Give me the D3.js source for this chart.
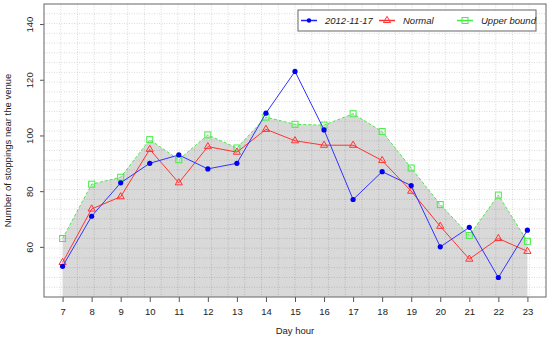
<!DOCTYPE html>
<html>
<head>
<meta charset="utf-8">
<script src="https://cdn.jsdelivr.net/npm/d3@7"></script>
<style>
  body { margin: 0; background: #fff; }
  svg { font-family: "Liberation Sans", Arial, sans-serif; }
</style>
</head>
<body>
<div id="chart"></div>
<script>
// data
var hours = [7, 8, 9, 10, 11, 12, 13, 14, 15, 16, 17, 18, 19, 20, 21, 22, 23];
var observed = [53, 71, 83, 90, 93, 88, 90, 108, 123, 102, 77, 87, 82, 60, 67, 49, 66];
var normal = [54.4, 73.6, 78, 95, 83, 96, 94, 102.2, 98.1, 96.5, 96.5, 91, 80, 67.4, 55.6, 63, 58.4];
var upper = [63, 82.5, 85, 98.5, 91.3, 100.2, 95.5, 106.6, 104, 103.7, 107.8, 101.4, 88.3, 75.2, 64.1, 78.6, 62];
var yTicks = [60, 80, 100, 120, 140];

var margin = {top: 4, right: 4, bottom: 46, left: 44},
    width = 550 - margin.left - margin.right,
    height = 343 - margin.top - margin.bottom;

var x = d3.scaleLinear().domain([6.36, 23.64]).range([0, width]);
var y = d3.scaleLinear().domain([42, 147.2]).range([height, 0]);

var svg = d3.select("#chart")
    .append("svg")
        .attr("width", 550)
        .attr("height", 343)
    .append("g")
        .attr("transform", "translate(" + margin.left + "," + margin.top + ")");

// grey area under the upper bound
var area = d3.area()
    .x(function(d, i) { return x(hours[i]); })
    .y0(height)
    .y1(function(d) { return y(d); });
svg.append("path")
    .datum(upper)
    .attr("d", area)
    .attr("fill", "#d9d9d9");

// dotted grid, 30 x 30 cells
var gridX = d3.range(1, 30).map(function(i) { return width * i / 30; });
var gridY = d3.range(1, 30).map(function(i) { return height * i / 30; });
svg.selectAll(".gx").data(gridX).enter().append("line")
    .attr("x1", function(d) { return d; }).attr("x2", function(d) { return d; })
    .attr("y1", 0).attr("y2", height)
    .attr("stroke", "rgba(0,0,0,0.15)").attr("stroke-dasharray", "1,1.5");
svg.selectAll(".gy").data(gridY).enter().append("line")
    .attr("y1", function(d) { return d; }).attr("y2", function(d) { return d; })
    .attr("x1", 0).attr("x2", width)
    .attr("stroke", "rgba(0,0,0,0.15)").attr("stroke-dasharray", "1,1.5");

function lineFor(vals) {
    return d3.line()
        .x(function(d, i) { return x(hours[i]); })
        .y(function(d) { return y(d); })(vals);
}

// upper bound
svg.append("path").attr("d", lineFor(upper))
    .attr("fill", "none").attr("stroke", "#44ee44").attr("stroke-width", 1)
    .attr("stroke-dasharray", "3,2");
svg.selectAll(".sq").data(upper).enter().append("rect")
    .attr("x", function(d, i) { return x(hours[i]) - 3; })
    .attr("y", function(d) { return y(d) - 3; })
    .attr("width", 6).attr("height", 6)
    .attr("fill", "none").attr("stroke", "#44ee44");

// normal
svg.append("path").attr("d", lineFor(normal))
    .attr("fill", "none").attr("stroke", "#ff3333").attr("stroke-width", 1);
var tri = d3.symbol().type(d3.symbolTriangle).size(22);
svg.selectAll(".tri").data(normal).enter().append("path")
    .attr("d", tri)
    .attr("transform", function(d, i) { return "translate(" + x(hours[i]) + "," + y(d) + ")"; })
    .attr("fill", "none").attr("stroke", "#ff3333");

// observed day
svg.append("path").attr("d", lineFor(observed))
    .attr("fill", "none").attr("stroke", "#3333ff").attr("stroke-width", 1);
svg.selectAll(".pt").data(observed).enter().append("circle")
    .attr("cx", function(d, i) { return x(hours[i]); })
    .attr("cy", function(d) { return y(d); })
    .attr("r", 2.6).attr("fill", "#0000ee");

// axes
var xAxis = svg.append("g")
    .attr("transform", "translate(0," + height + ")")
    .call(d3.axisBottom(x).tickValues(hours).tickFormat(d3.format("d")).tickSize(5).tickPadding(6));
var yAxis = svg.append("g")
    .call(d3.axisLeft(y).tickValues(yTicks).tickSize(4).tickPadding(3));
[xAxis, yAxis].forEach(function(a) {
    a.select(".domain").remove();
    a.selectAll("line").attr("stroke", "#555");
    a.selectAll("text").attr("font-size", "9.5px").attr("fill", "#222")
        .attr("font-family", "Liberation Sans, Arial, sans-serif");
});
yAxis.selectAll("text")
    .attr("text-anchor", "middle")
    .attr("transform", "translate(-11,0) rotate(-90)")
    .attr("x", 0).attr("dy", "0");

// box
svg.append("rect").attr("width", width).attr("height", height)
    .attr("fill", "none").attr("stroke", "#666").attr("stroke-width", 1);

// axis titles
svg.append("text").attr("x", width / 2).attr("y", height + 37)
    .attr("text-anchor", "middle").attr("font-size", "9.5px").attr("fill", "#222")
    .text("Day hour");
svg.append("text")
    .attr("transform", "translate(" + (-33) + "," + (height / 2) + ") rotate(-90)")
    .attr("text-anchor", "middle").attr("font-size", "9.5px").attr("fill", "#222")
    .text("Number of stoppings near the venue");

// legend
var lg = svg.append("g").attr("transform", "translate(" + (298 - margin.left) + "," + (10 - margin.top) + ")");
lg.append("rect").attr("width", 238).attr("height", 21)
    .attr("fill", "#fff").attr("stroke", "#666");
var items = [
    {name: "2012-11-17", color: "#2222ff", lx: 3, tx: 27, mark: "dot"},
    {name: "Normal", color: "#ff3333", lx: 81, tx: 105, mark: "tri"},
    {name: "Upper bound", color: "#44ee44", lx: 159, tx: 183, mark: "sq"}
];
items.forEach(function(it) {
    var g = lg.append("g").attr("transform", "translate(" + it.lx + ",10.5)");
    g.append("line").attr("x1", 0).attr("x2", 16).attr("stroke", it.color).attr("stroke-width", 1.5);
    if (it.mark === "dot") {
        g.append("circle").attr("cx", 8).attr("r", 2.2).attr("fill", "#0000ee");
    } else if (it.mark === "tri") {
        g.append("path").attr("d", tri).attr("transform", "translate(8,0)")
            .attr("fill", "none").attr("stroke", it.color);
    } else {
        g.append("rect").attr("x", 5).attr("y", -3).attr("width", 6).attr("height", 6)
            .attr("fill", "none").attr("stroke", it.color);
    }
    lg.append("text").attr("x", it.tx).attr("y", 14)
        .attr("font-size", "9.5px").attr("font-style", "italic").attr("fill", "#222")
        .text(it.name);
});
</script>
</body>
</html>
